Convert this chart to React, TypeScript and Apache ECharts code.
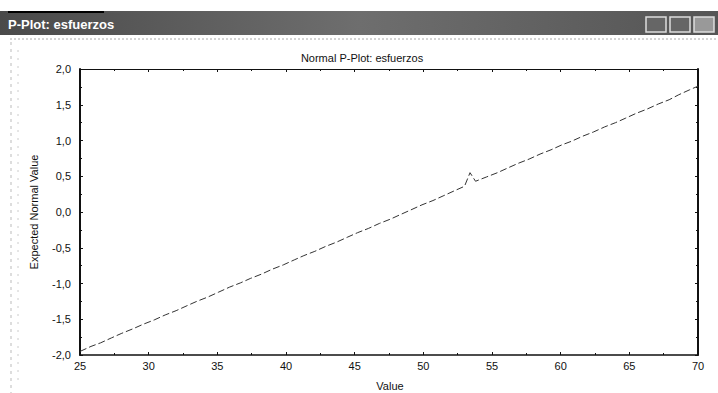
import React, { useEffect, useRef } from "react";
import * as echarts from "echarts";

const values: number[] = [
  25.0, 25.8, 26.5, 27.3, 28.0, 28.9, 29.6, 30.4, 31.2, 32.0, 32.8, 33.5, 34.3, 35.1, 35.9,
  36.7, 37.4, 38.2, 39.0, 39.8, 40.6, 41.3, 42.1, 42.9, 43.7, 44.5, 45.2, 46.0, 46.8, 47.6,
  48.4, 49.1, 49.9, 50.7, 51.5, 52.3, 53.0, 53.4, 53.8, 54.6, 55.4, 56.2, 56.9, 57.7, 58.5,
  59.3, 60.1, 60.8, 61.6, 62.4, 63.2, 64.0, 64.7, 65.5, 66.3, 67.1, 67.9, 68.6, 69.4, 70.0,
];
const expectedNormal: number[] = [
  -1.95, -1.88, -1.83, -1.76, -1.7, -1.63, -1.57, -1.51, -1.44, -1.38, -1.31, -1.25, -1.19, -1.12, -1.05,
  -0.99, -0.93, -0.87, -0.8, -0.74, -0.67, -0.61, -0.55, -0.48, -0.42, -0.35, -0.29, -0.23, -0.16, -0.1,
  -0.03, 0.03, 0.1, 0.16, 0.23, 0.3, 0.36, 0.55, 0.43, 0.49, 0.55, 0.62, 0.68, 0.74, 0.81,
  0.87, 0.94, 0.99, 1.06, 1.12, 1.19, 1.25, 1.31, 1.38, 1.44, 1.51, 1.57, 1.64, 1.71, 1.76,
];
const xTicks = { min: 25, max: 70, interval: 5 };
const yTicks = { min: -2, max: 2, interval: 0.5 };
const windowTitle = "P-Plot: esfuerzos";
const chartTitle = "Normal P-Plot: esfuerzos";
const xName = "Value";
const yName = "Expected Normal Value";

export default function App() {
  const ref = useRef<HTMLDivElement>(null);
  useEffect(() => {
    if (!ref.current) return;
    const chart = echarts.init(ref.current, null, { renderer: "svg" });
    const font = "Liberation Sans, Arial, sans-serif";
    const comma = (v: number) => v.toFixed(1).replace(".", ",");
    const axisCommon = {
      axisTick: { show: true, inside: true, length: 3, lineStyle: { color: "#111" } },
      minorTick: { show: true, splitNumber: 2, length: 2, lineStyle: { color: "#111" } },
      splitLine: { show: false },
    };
    const line = (w: number) => ({ show: true, onZero: false, lineStyle: { color: "#111", width: w } });
    chart.setOption({
      animation: false,
      backgroundColor: "#fff",
      grid: { left: 80, right: 20, top: 69, bottom: 38, containLabel: false },
      xAxis: [
        {
          type: "value",
          ...xTicks,
          position: "bottom",
          ...axisCommon,
          axisLine: line(1.5),
          axisLabel: { color: "#111", fontSize: 11, fontFamily: font, margin: 5 },
        },
        {
          type: "value",
          ...xTicks,
          position: "top",
          ...axisCommon,
          axisLine: line(1.2),
          axisLabel: { show: false },
        },
      ],
      yAxis: [
        {
          type: "value",
          ...yTicks,
          position: "left",
          ...axisCommon,
          axisLine: line(2),
          axisLabel: { color: "#111", fontSize: 11, fontFamily: font, margin: 9, formatter: comma },
        },
        {
          type: "value",
          ...yTicks,
          position: "right",
          ...axisCommon,
          axisLine: line(2),
          axisLabel: { show: false },
        },
      ],
      series: [
        {
          type: "line",
          data: values.map((v, i) => [v, expectedNormal[i]]),
          showSymbol: false,
          symbol: "none",
          lineStyle: { color: "#333", width: 1, type: [7, 3] },
        },
      ],
      graphic: [
        {
          type: "rect",
          shape: { x: 0, y: 11, width: 718, height: 24 },
          style: {
            fill: new echarts.graphic.LinearGradient(0, 0, 1, 0, [
              { offset: 0, color: "#4a4a4a" },
              { offset: 0.5, color: "#6e6e6e" },
              { offset: 1, color: "#555" },
            ]),
          },
          silent: true,
        },
        { type: "rect", shape: { x: 8, y: 11, width: 96, height: 2 }, style: { fill: "#000" } },
        {
          type: "text",
          x: 8,
          y: 24,
          style: { text: windowTitle, fill: "#fff", font: "bold 13px Liberation Sans, Arial", verticalAlign: "middle" },
        },
        { type: "rect", shape: { x: 646, y: 17, width: 20, height: 15 }, style: { fill: "#666", stroke: "#ddd", lineWidth: 1.5 } },
        { type: "rect", shape: { x: 670, y: 17, width: 20, height: 15 }, style: { fill: "#666", stroke: "#ddd", lineWidth: 1.5 } },
        { type: "rect", shape: { x: 694, y: 17, width: 20, height: 15 }, style: { fill: "#999", stroke: "#ddd", lineWidth: 1.5 } },
        { type: "line", shape: { x1: 10, y1: 39, x2: 718, y2: 39 }, style: { stroke: "#aaa", lineWidth: 1, lineDash: [2, 2] } },
        { type: "line", shape: { x1: 11, y1: 42, x2: 11, y2: 393 }, style: { stroke: "#bbb", lineWidth: 1, lineDash: [3, 4] } },
        { type: "line", shape: { x1: 18, y1: 50, x2: 18, y2: 380 }, style: { stroke: "#ccc", lineWidth: 1, lineDash: [2, 6] } },
        {
          type: "text",
          x: 362,
          y: 58,
          style: { text: chartTitle, fill: "#111", font: "11px Liberation Sans, Arial", align: "center", verticalAlign: "middle" },
        },
        {
          type: "text",
          x: 390,
          y: 386,
          style: { text: xName, fill: "#111", font: "11px Liberation Sans, Arial", align: "center", verticalAlign: "middle" },
        },
        {
          type: "text",
          x: 34,
          y: 212,
          rotation: Math.PI / 2,
          style: { text: yName, fill: "#111", font: "11px Liberation Sans Narrow, Liberation Sans, Arial", align: "center", verticalAlign: "middle" },
        },
      ],
    });
    return () => chart.dispose();
  }, []);
  return <div ref={ref} style={{ position: "fixed", left: 0, top: 0, width: 718, height: 393 }} />;
}
